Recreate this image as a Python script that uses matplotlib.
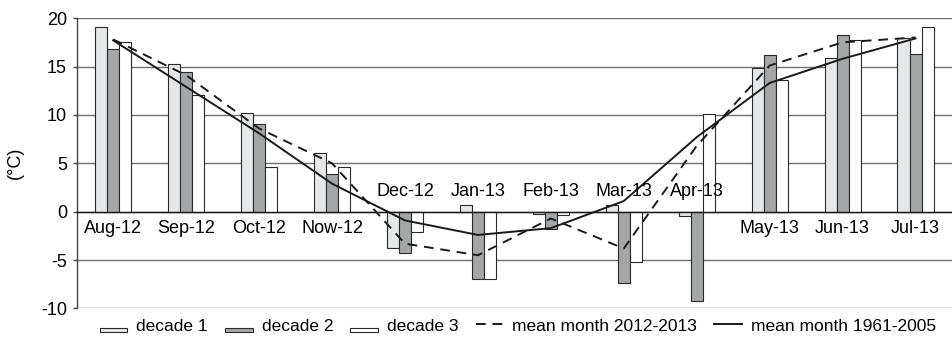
import matplotlib.pyplot as plt
import numpy as np
from matplotlib.patches import Patch, Rectangle
from matplotlib.lines import Line2D
from matplotlib.legend_handler import HandlerPatch

plt.rcParams['font.family'] = ['Liberation Sans', 'DejaVu Sans']
plt.rcParams['axes.unicode_minus'] = False

# Monthly data, Aug 2012 - Jul 2013
months = ["Aug-12", "Sep-12", "Oct-12", "Now-12", "Dec-12", "Jan-13",
          "Feb-13", "Mar-13", "Apr-13", "May-13", "Jun-13", "Jul-13"]
decade1 = [19.1, 15.3, 10.2, 6.1, -3.7, 0.7, -0.2, 0.7, -0.4, 14.8, 15.9, 17.9]
decade2 = [16.8, 14.4, 9.1, 3.9, -4.3, -7.0, -1.8, -7.4, -9.2, 16.2, 18.3, 16.3]
decade3 = [17.5, 12.1, 4.6, 4.6, -2.1, -7.0, -0.3, -5.2, 10.1, 13.6, 17.7, 19.1]
mean_2012_2013 = [17.8, 14.1, 8.6, 5.0, -3.3, -4.5, -0.7, -3.8, 6.8, 15.1, 17.5, 18.0]
mean_1961_2005 = [17.7, 12.9, 8.1, 2.9, -0.9, -2.4, -1.7, 1.1, 7.7, 13.3, 15.8, 17.9]
labels_above = ["Dec-12", "Jan-13", "Feb-13", "Mar-13", "Apr-13"]

x = np.arange(len(months))
w = 0.165
fs = 13

fig = plt.figure(figsize=(9.52, 3.42), dpi=100)
ax = fig.add_axes([0.0806, 0.098, 0.9194, 0.849])

ax.set_axisbelow(True)
ax.yaxis.grid(True, color='#6e6e6e', linewidth=1.0)
bar_kw = dict(width=w, edgecolor='#2a2a2a', linewidth=0.8, zorder=2)
ax.bar(x - w, decade1, color='#e6e7e8', **bar_kw)
ax.bar(x, decade2, color='#a5a6a8', **bar_kw)
ax.bar(x + w, decade3, color='white', **bar_kw)
ax.axhline(0, color='#1a1a1a', linewidth=1.0, zorder=3)

ax.plot(x, mean_2012_2013, color='#1a1a1a', linewidth=1.4,
        linestyle=(0, (5, 3.5)), zorder=4)
ax.plot(x, mean_1961_2005, color='#1a1a1a', linewidth=1.4, zorder=4)

for xi, m in zip(x, months):
    if m in labels_above:
        ax.text(xi, 2.05, m, ha='center', va='center', fontsize=fs, zorder=5)
    else:
        ax.text(xi, -1.75, m, ha='center', va='center', fontsize=fs, zorder=5)

ax.set_xlim(-0.5, 11.5)
ax.set_ylim(-10, 20)
ax.set_yticks([-10, -5, 0, 5, 10, 15, 20])
ax.set_xticks([])
ax.tick_params(axis='y', labelsize=fs, length=3, width=1, color='#444444', pad=4)
for s in ['top', 'right', 'bottom']:
    ax.spines[s].set_visible(False)
ax.spines['left'].set_color('#444444')
ax.spines['left'].set_linewidth(1.0)
ax.set_ylabel("(°C)", fontsize=fs, labelpad=12)


def flat_patch(legend, orig_handle, xdescent, ydescent, width, height, fontsize):
    return Rectangle((-xdescent, -ydescent - 1), width, height * 0.35)


handles = [
    Patch(facecolor='#e6e7e8', edgecolor='#2a2a2a', linewidth=0.8),
    Patch(facecolor='#a5a6a8', edgecolor='#2a2a2a', linewidth=0.8),
    Patch(facecolor='white', edgecolor='#2a2a2a', linewidth=0.8),
    Line2D([], [], color='#1a1a1a', linewidth=1.4, linestyle=(0, (5, 3.5))),
    Line2D([], [], color='#1a1a1a', linewidth=1.4),
]
names = ["decade 1", "decade 2", "decade 3", "mean month 2012-2013", "mean month 1961-2005"]
fig.legend(handles, names, loc='center', bbox_to_anchor=(0.544, 0.047), ncol=5,
           frameon=False, fontsize=12.5, handlelength=1.6, handletextpad=0.5,
           columnspacing=1.0, borderpad=0,
           handler_map={Patch: HandlerPatch(patch_func=flat_patch)})

fig.savefig("out.png", dpi=100)
